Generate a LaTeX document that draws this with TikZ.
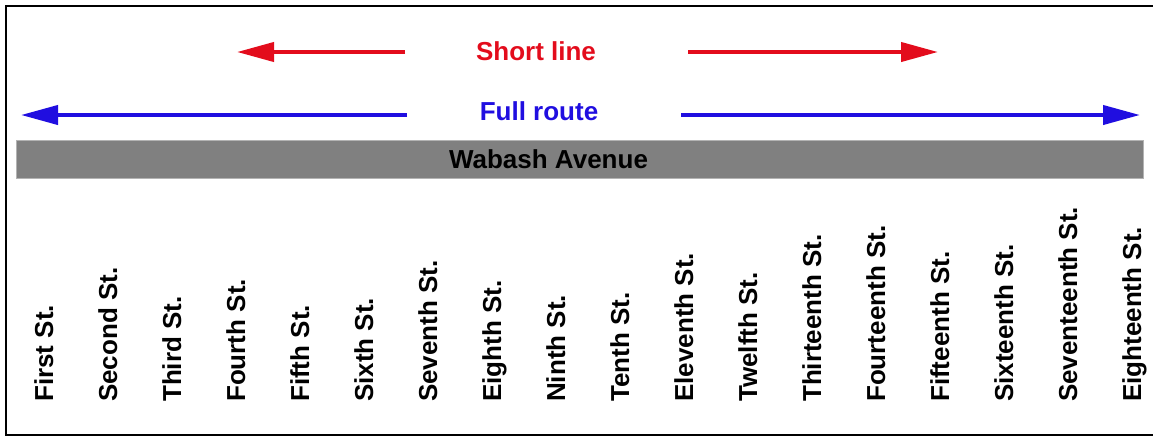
\documentclass[tikz,border=0pt]{standalone}
\usepackage{fontspec}
\setmainfont{Liberation Sans}
\usetikzlibrary{arrows.meta}
\definecolor{rred}{RGB}{227,12,28}
\definecolor{rblue}{RGB}{32,14,224}
\definecolor{avegray}{RGB}{128,128,128}
\begin{document}
\begin{tikzpicture}[x=1pt,y=-1pt,
  lbl/.style={inner sep=0pt, font=\fontsize{26}{30}\selectfont\bfseries},
  street/.style={lbl, rotate=90, anchor=base west},
  route/.style={line width=4pt, -{Triangle[length=37pt,width=19pt]}},
]
\useasboundingbox (0,0) rectangle (1153,437);
% frame (right side runs off the picture)
\draw[line width=2pt] (1160,6) -- (6,6) -- (6,435) -- (1160,435);
% avenue
\node[fill=avegray, draw=avegray!60!white, line width=0.8pt, minimum width=1127pt, minimum height=38pt, inner sep=0pt, anchor=north west] (ave) at (16,140) {};
\node[lbl, anchor=base] (avename) at (548.5,168.3) {Wabash Avenue};
% labels
\node[lbl, anchor=base, text=rred] (short) at (536,60.7) {Short line};
\node[lbl, anchor=base, text=rblue] (full) at (539,120.7) {Full route};
% arrow coordinates
\coordinate (sl0) at (405,52);
\coordinate (sl1) at (237,52);
\coordinate (sr0) at (688,52);
\coordinate (sr1) at (938,52);
\coordinate (fl0) at (407,115);
\coordinate (fl1) at (21,115);
\coordinate (fr0) at (681,115);
\coordinate (fr1) at (1140,115);
\draw[route, rred] (sl0) -- (sl1);
\draw[route, rred] (sr0) -- (sr1);
\draw[route, rblue] (fl0) -- (fl1);
\draw[route, rblue] (fr0) -- (fr1);
% streets
\foreach \n/\s [count=\i from 0] in {s1/First St., s2/Second St., s3/Third St., s4/Fourth St., s5/Fifth St., s6/Sixth St., s7/Seventh St., s8/Eighth St., s9/Ninth St., s10/Tenth St., s11/Eleventh St., s12/Twelfth St., s13/Thirteenth St., s14/Fourteenth St., s15/Fifteenth St., s16/Sixteenth St., s17/Seventeenth St., s18/Eighteenth St.}
  \node[street] (\n) at ({53+64*\i},402) {\s};
\end{tikzpicture}
\end{document}
